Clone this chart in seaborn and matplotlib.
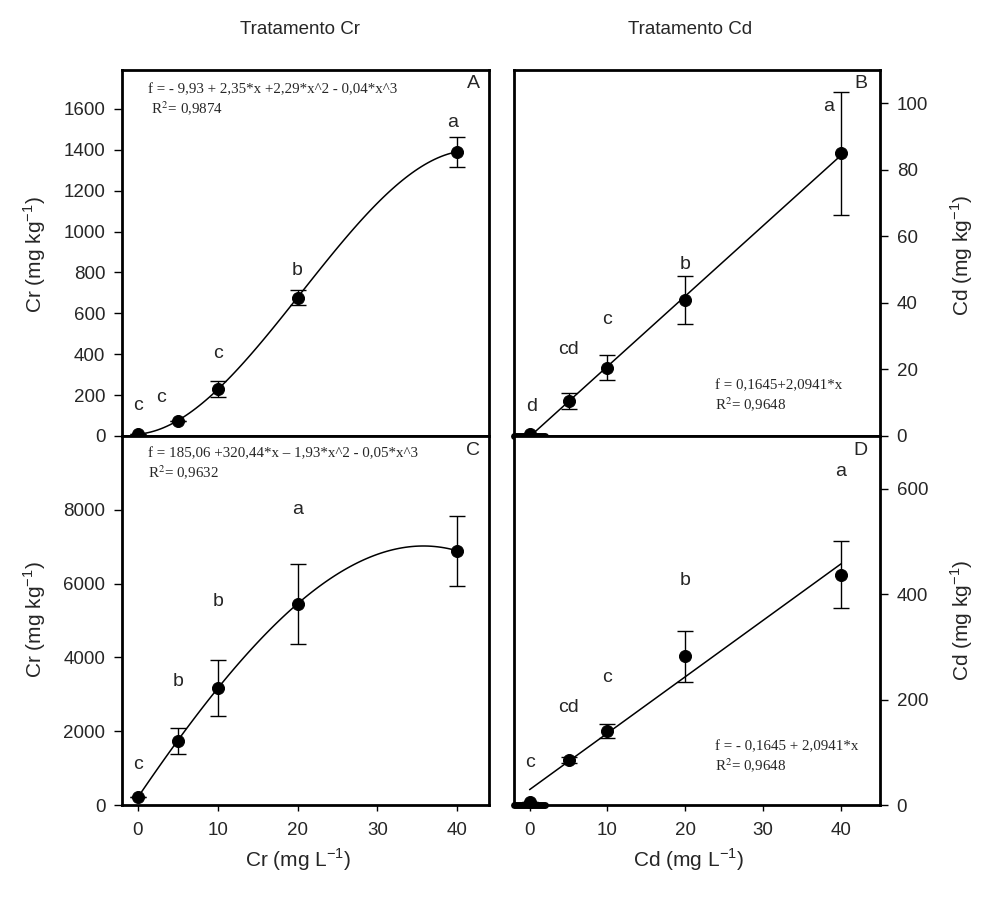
import numpy as np
import pandas as pd
import matplotlib
matplotlib.use("Agg")
import matplotlib.pyplot as plt
import seaborn as sns

sns.set_theme(style="white")
plt.rcParams['font.family'] = ['Liberation Sans', 'DejaVu Sans']
plt.rcParams['mathtext.fontset'] = 'custom'
plt.rcParams['mathtext.rm'] = 'Liberation Sans'

# ---------------- data ----------------
doses = [0, 5, 10, 20, 40]

cr_shoot = [10, 73, 230, 677, 1390]           # panel A
cr_shoot_err = [0, 0, 40, 38, 72]
cr_shoot_letters = ["c", "c", "c", "b", "a"]

cd_shoot = [0.5, 10.5, 20.5, 41, 85]          # panel B
cd_shoot_err = [0, 2.3, 3.8, 7.2, 18.5]
cd_shoot_letters = ["d", "cd", "c", "b", "a"]

cr_root = [215, 1740, 3170, 5450, 6890]       # panel C
cr_root_err = [0, 360, 770, 1090, 950]
cr_root_letters = ["c", "b", "b", "a", ""]

cd_root = [5, 85, 140, 282, 437]              # panel D
cd_root_err = [0, 6, 13, 48, 63]
cd_root_letters = ["c", "cd", "c", "b", "a"]

eq_A = "f = - 9,93 + 2,35*x +2,29*x^2 - 0,04*x^3\n R$^2$= 0,9874"
eq_B = "f = 0,1645+2,0941*x\nR$^2$= 0,9648"
eq_C = "f = 185,06 +320,44*x \u2013 1,93*x^2 - 0,05*x^3\nR$^2$= 0,9632"
eq_D = "f = - 0,1645 + 2,0941*x\nR$^2$= 0,9648"

# letter label anchor positions (layout)
letter_pos = {
    "A": ([0, 2.9, 10, 20, 39.5], [150, 190, 405, 810, 1535]),
    "B": ([0.3, 5, 10, 20, 38.4], [9, 26, 35, 51.5, 99]),
    "C": ([0, 5, 10, 20, 40], [1085, 3340, 5510, 8000, 0]),
    "D": ([0, 5, 10, 20, 40], [81, 185, 242, 425, 633]),
}

fig = plt.figure(figsize=(9.85, 8.99), dpi=100)
W, H = 985, 899

def add_ax(x0, x1, y_top, y_bot):
    return fig.add_axes([x0 / W, (H - y_bot) / H, (x1 - x0) / W, (y_bot - y_top) / H])

axA = add_ax(122, 489, 70, 436)
axC = add_ax(122, 489, 436, 805)
axB = add_ax(514, 880, 70, 436)
axD = add_ax(514, 880, 436, 805)

panels = [
    (axA, cr_shoot, cr_shoot_err, cr_shoot_letters, 3, (0, 1790), np.arange(0, 1601, 200), "A", "left", (-2, 44)),
    (axB, cd_shoot, cd_shoot_err, cd_shoot_letters, 1, (0, 110), np.arange(0, 101, 20), "B", "right", (-2, 45)),
    (axC, cr_root, cr_root_err, cr_root_letters, 3, (0, 10000), np.arange(0, 8001, 2000), "C", "left", (-2, 44)),
    (axD, cd_root, cd_root_err, cd_root_letters, 1, (0, 700), np.arange(0, 601, 200), "D", "right", (-2, 45)),
]

for ax, y, err, letters, order, ylim, yticks, tag, side, xlim in panels:
    df = pd.DataFrame({"x": doses, "y": y})
    sns.regplot(data=df, x="x", y="y", order=order, ci=None, scatter=False, ax=ax,
                line_kws=dict(color="black", lw=1.1), truncate=True)
    ax.errorbar(doses, y, yerr=err, fmt="none", ecolor="black", elinewidth=1.0,
                capsize=6, capthick=1.0, zorder=3)
    sns.scatterplot(data=df, x="x", y="y", ax=ax, color="black", s=75, edgecolor="black",
                    zorder=4, clip_on=False)
    lx, ly = letter_pos[tag]
    for xx, yy, lt in zip(lx, ly, letters):
        if lt:
            ax.text(xx, yy, lt, ha="center", va="center", fontsize=14)
    ax.set_xlim(*xlim)
    ax.set_ylim(*ylim)
    ax.set_yticks(yticks)
    ax.set_xlabel("")
    ax.set_ylabel("")
    for sp in ax.spines.values():
        sp.set_visible(True)
        sp.set_color("black")
        sp.set_linewidth(2)
    ax.tick_params(axis="y", direction="out", length=6, width=1, labelsize=13.5, color="black",
                   left=(side == "left"), labelleft=(side == "left"),
                   right=(side == "right"), labelright=(side == "right"), pad=6)
    ax.text(0.975 if side == "left" else 0.965, 0.985, tag, transform=ax.transAxes,
            ha="right", va="top", fontsize=14)

# x ticks only on bottom row
for ax in (axA, axB):
    ax.set_xticks([])
for ax in (axC, axD):
    ax.set_xticks([0, 10, 20, 30, 40])
    ax.tick_params(axis="x", direction="out", length=4, width=1, labelsize=13.5, color="black", pad=8, bottom=True)

# thick bar artifact near origin in Cd panels
for ax in (axB, axD):
    ax.axhline(0, xmin=0, xmax=0.085, color="black", lw=5, zorder=5, clip_on=False)

# equations
serif = ['Liberation Serif', 'DejaVu Serif']
def eqtext(ax, x, y, s):
    ax.text(x, y, s, transform=ax.transAxes, ha="left", va="top", fontsize=10.8,
            family=serif, linespacing=1.25, math_fontfamily='stix')

eqtext(axA, 0.07, 0.965, eq_A)
eqtext(axC, 0.07, 0.97, eq_C)
eqtext(axB, 0.55, 0.155, eq_B)
eqtext(axD, 0.55, 0.175, eq_D)

# labels
fig.text(35 / W, 1 - 255 / H, "Cr (mg kg$^{-1}$)", rotation=90, ha="center", va="center", fontsize=15)
fig.text(35 / W, 1 - 620 / H, "Cr (mg kg$^{-1}$)", rotation=90, ha="center", va="center", fontsize=15)
fig.text(962 / W, 1 - 255 / H, "Cd (mg kg$^{-1}$)", rotation=90, ha="center", va="center", fontsize=15)
fig.text(962 / W, 1 - 620 / H, "Cd (mg kg$^{-1}$)", rotation=90, ha="center", va="center", fontsize=15)
fig.text(298 / W, 1 - 860 / H, "Cr (mg L$^{-1}$)", ha="center", va="center", fontsize=15)
fig.text(688 / W, 1 - 860 / H, "Cd (mg L$^{-1}$)", ha="center", va="center", fontsize=15)
fig.text(300 / W, 1 - 30 / H, "Tratamento Cr", ha="center", va="center", fontsize=13.5)
fig.text(690 / W, 1 - 30 / H, "Tratamento Cd", ha="center", va="center", fontsize=13.5)

fig.savefig("out.png", dpi=100, facecolor="white")
